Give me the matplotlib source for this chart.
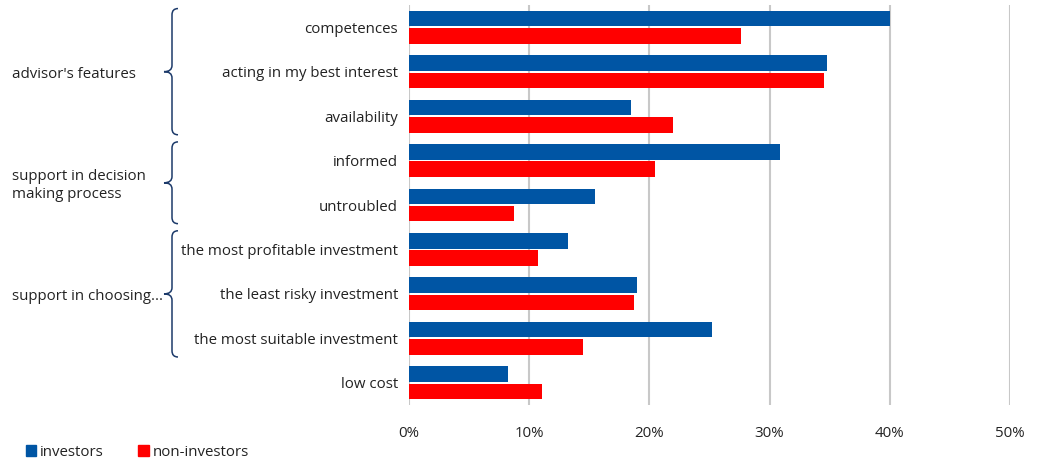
import matplotlib
matplotlib.use("Agg")
import matplotlib.pyplot as plt
import numpy as np
from matplotlib.path import Path
from matplotlib.patches import PathPatch, Patch
import matplotlib.transforms as mtransforms

categories = ["competences", "acting in my best interest", "availability",
              "informed", "untroubled",
              "the most profitable investment", "the least risky investment",
              "the most suitable investment", "low cost"]
investors = [40.0, 34.8, 18.5, 30.9, 15.5, 13.2, 19.0, 25.2, 8.2]
non_investors = [27.6, 34.5, 22.0, 20.5, 8.7, 10.7, 18.7, 14.5, 11.1]
series_names = ["investors", "non-investors"]
xticks = [0, 10, 20, 30, 40, 50]
xtick_labels = ["0%", "10%", "20%", "30%", "40%", "50%"]
group_labels = ["advisor's features", "support in decision\nmaking process", "support in choosing..."]
group_start = [0, 3, 5]
group_end = [2, 4, 7]

BLUE = "#0055a4"
RED = "#ff0000"
NAVY = "#1c3a6a"
W, H = 1041, 461
FS = 10.8

plt.rcParams['font.family'] = ['Open Sans', 'DejaVu Sans']
fig = plt.figure(figsize=(W / 100, H / 100), dpi=100)
ax = fig.add_axes([409 / W, 1 - 405 / H, (1010 - 409) / W, (405 - 5) / H])

y = np.arange(len(categories))
h = 0.35
off = 0.195
ax.barh(y - off, investors, height=h, color=BLUE, zorder=3)
ax.barh(y + off, non_investors, height=h, color=RED, zorder=3)

ax.set_xlim(0, 50)
ax.set_ylim(len(categories) - 0.5, -0.5)
ax.set_xticks(xticks)
ax.set_xticklabels(xtick_labels)
ax.set_yticks(y)
ax.set_yticklabels(categories)
ax.tick_params(axis='y', length=0, pad=8, labelsize=FS, labelcolor="#222222")
ax.tick_params(axis='x', length=0, pad=15, labelsize=FS, labelcolor="#222222")
ax.grid(axis='x', color="#c8c8c8", linewidth=1.5, zorder=0)
for s in ax.spines.values():
    s.set_visible(False)

# braces
trans = mtransforms.blended_transform_factory(fig.transFigure, ax.transData)
xv, xr, xt = 172 / W, 178 / W, 164 / W
r = 0.14
for lab, s0, s1 in zip(group_labels, group_start, group_end):
    y0, y1 = s0 - 0.42, s1 + 0.42
    ym = (y0 + y1) / 2
    verts = [(xr, y0), (xv, y0), (xv, y0 + r), (xv, ym - r), (xv, ym), (xt, ym),
             (xv, ym), (xv, ym + r), (xv, y1 - r), (xv, y1), (xr, y1)]
    codes = [Path.MOVETO, Path.CURVE3, Path.CURVE3, Path.LINETO, Path.CURVE3, Path.CURVE3,
             Path.CURVE3, Path.CURVE3, Path.LINETO, Path.CURVE3, Path.CURVE3]
    fig.add_artist(PathPatch(Path(verts, codes), transform=trans, fill=False,
                             edgecolor=NAVY, linewidth=1.1, clip_on=False))
    fig.text(12 / W, ym + 0.06, lab, transform=trans, ha='left', va='center',
             fontsize=FS, color="#222222", linespacing=1.35)

handles = [Patch(color=BLUE), Patch(color=RED)]
fig.legend(handles, series_names, loc='lower left', bbox_to_anchor=(12 / W, -12 / H),
           ncol=2, frameon=False, fontsize=FS, handlelength=0.7, handleheight=0.7,
           handletextpad=0.25, columnspacing=2.3, labelcolor="#222222")

fig.savefig("out.png", dpi=100)
